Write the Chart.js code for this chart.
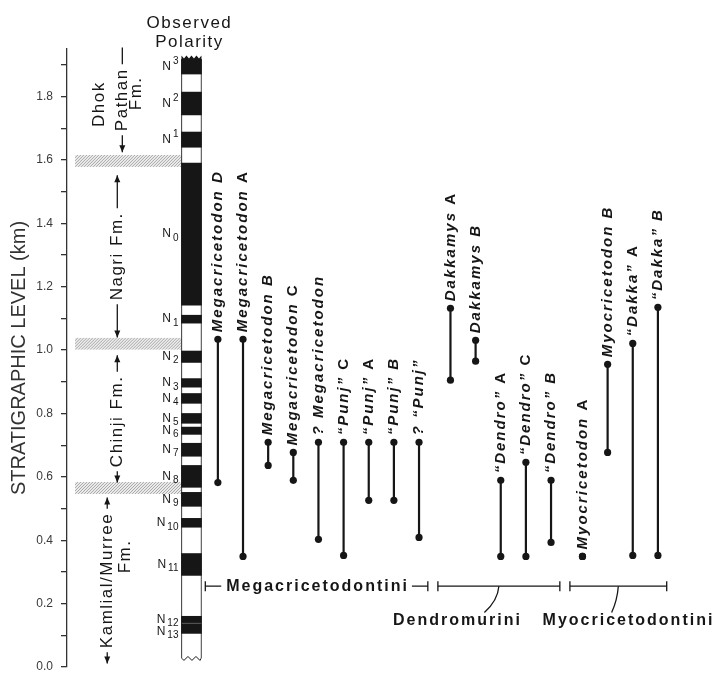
<!DOCTYPE html>
<html>
<head>
<meta charset="utf-8">
<script src="https://cdn.jsdelivr.net/npm/chart.js@4.4.0/dist/chart.umd.min.js"></script>
<style>
  html, body { margin: 0; padding: 0; background: #fff; }
  #wrap { width: 721px; height: 673px; }
</style>
</head>
<body>
<div id="wrap"><canvas id="myChart" width="721" height="673"></canvas></div>
<script>
const FONT = "'Liberation Sans', Arial, Helvetica, sans-serif";
const INK = '#161616';

// observed polarity: normal zones (km)
const zoneTag = ['3', '2', '1', '0', '1', '2', '3', '4', '5', '6', '7', '8', '9', '10', '11', '12', '13'];
const zoneSup = [true, true, true, false, false, false, false, false, false, false, false, false, false, false, false, false, false];
const zoneBottom = [1.871, 1.742, 1.640, 1.142, 1.085, 0.961, 0.883, 0.832, 0.769, 0.734, 0.665, 0.567, 0.507, 0.441, 0.289, 0.140, 0.106];
const zoneTop = [1.917, 1.814, 1.688, 1.590, 1.110, 0.997, 0.910, 0.863, 0.800, 0.757, 0.706, 0.636, 0.551, 0.469, 0.358, 0.160, 0.137];
const columnRange = [0.027, 1.917];

// formations and their boundaries (km)
const formBounds = [0.565, 1.02, 1.597];

// taxa ranges (km)
const taxonName = ['Megacricetodon', 'Megacricetodon', 'Megacricetodon', 'Megacricetodon', '? Megacricetodon',
    '\u201cPunj\u201d', '\u201cPunj\u201d', '\u201cPunj\u201d', '? \u201cPunj\u201d',
    'Dakkamys', 'Dakkamys', '\u201cDendro\u201d', '\u201cDendro\u201d', '\u201cDendro\u201d',
    'Myocricetodon', 'Myocricetodon', '\u201cDakka\u201d', '\u201cDakka\u201d'];
const taxonLetter = ['D', 'A', 'B', 'C', '', 'C', 'A', 'B', '', 'A', 'B', 'A', 'C', 'B', 'A', 'B', 'A', 'B'];
const rangeBottom = [0.582, 0.349, 0.636, 0.589, 0.403, 0.352, 0.526, 0.526, 0.409, 0.905, 0.965, 0.349, 0.349, 0.393, 0.349, 0.677, 0.352, 0.352];
const rangeTop = [1.034, 1.034, 0.709, 0.677, 0.709, 0.709, 0.709, 0.709, 0.709, 1.132, 1.031, 0.589, 0.646, 0.589, 0.349, 0.955, 1.021, 1.135];
const taxonTribe = [0, 0, 0, 0, 0, 0, 0, 0, 0, 1, 1, 1, 1, 1, 2, 2, 2, 2];
const tribes = ['Megacricetodontini', 'Dendromurini', 'Myocricetodontini'];

const polX = 4.95;
function taxonX(i) { return 6 + i + 0.25 * taxonTribe[i]; }

// where the formation words sit (x in column units, y in km)
const formLabels = [
    { text: 'Dhok', x: 1.3, y: 1.776 },
    { text: 'Pathan', x: 2.2, y: 1.79, up: 1.955, upHead: false, down: 1.624, downHead: true },
    { text: 'Fm.', x: 2.77, y: 1.81 },
    { text: 'Nagri Fm.', x: 2.0, y: 1.296, up: 1.552, upHead: true, down: 1.04, downHead: true },
    { text: 'Chinji Fm.', x: 2.0, y: 0.775, up: 0.984, upHead: true, down: 0.582, downHead: true },
    { text: 'Kamlial/Murree', x: 1.6, y: 0.273, up: 0.535, upHead: true, down: 0.011, downHead: true },
    { text: 'Fm.', x: 2.3, y: 0.349 }
];
const tribeLayout = [
    null,
    { lx: 15.53, ly: 0.131, cx: 16.6, cy: 0.172 },
    { lx: 22.33, ly: 0.131, cx: 21.66, cy: 0.172 }
];
const bracketLevel = 0.255;

function arrowLine(ctx, x, yFrom, yTo, head) {
    ctx.beginPath(); ctx.moveTo(x, yFrom); ctx.lineTo(x, yTo); ctx.stroke();
    if (head) {
        const d = yTo > yFrom ? 1 : -1;
        ctx.beginPath();
        ctx.moveTo(x, yTo);
        ctx.lineTo(x - 3, yTo - d * 7);
        ctx.lineTo(x + 3, yTo - d * 7);
        ctx.closePath(); ctx.fill();
    }
}

const overlay = {
    id: 'overlay',
    beforeDatasetsDraw(chart) {
        const ctx = chart.ctx, xs = v => chart.scales.x.getPixelForValue(v), ys = v => chart.scales.y.getPixelForValue(v);
        // hatched formation contacts
        formBounds.forEach(b => {
            const x0 = xs(0.32), x1 = xs(polX) - 10, y0 = ys(b + 0.019), y1 = ys(b - 0.019);
            ctx.save();
            ctx.beginPath(); ctx.rect(x0, y0, x1 - x0, y1 - y0); ctx.clip();
            ctx.fillStyle = '#ececec'; ctx.fillRect(x0, y0, x1 - x0, y1 - y0);
            ctx.strokeStyle = '#a8a8a8'; ctx.lineWidth = 1;
            const h = y1 - y0;
            for (let x = x0 - h; x < x1; x += 3) {
                ctx.beginPath(); ctx.moveTo(x, y1); ctx.lineTo(x + h, y0); ctx.stroke();
            }
            ctx.restore();
        });
    },
    afterDatasetsDraw(chart) {
        const ctx = chart.ctx, xs = v => chart.scales.x.getPixelForValue(v), ys = v => chart.scales.y.getPixelForValue(v);
        const area = chart.chartArea;
        ctx.save();
        ctx.fillStyle = INK; ctx.strokeStyle = INK;

        // column ends
        const cx = xs(polX), cl = cx - 10, cr = cx + 10, ct = ys(columnRange[1]), cb = ys(columnRange[0]);
        ctx.beginPath(); ctx.moveTo(cl, ct + 1); ctx.lineTo(cl, ct - 4);
        for (let k = 0; k < 4; k++) {
            ctx.lineTo(cl + k * 5 + 2.5, ct - 1);
            ctx.lineTo(cl + k * 5 + 5, ct - 4);
        }
        ctx.lineTo(cr, ct + 1); ctx.closePath(); ctx.fill();
        ctx.lineWidth = 1;
        ctx.beginPath(); ctx.moveTo(cl + 0.5, cb);
        for (let k = 0; k < 5; k++) ctx.lineTo(cl + 0.5 + k * 4 + 2, k % 2 ? cb - 2 : cb + 2);
        ctx.lineTo(cr - 0.5, cb); ctx.stroke();

        // title over the column
        ctx.textAlign = 'center'; ctx.textBaseline = 'alphabetic';
        ctx.font = '17px ' + FONT; ctx.letterSpacing = '1.5px';
        ctx.fillText('Observed', cx - 2, area.top - 21);
        ctx.fillText('Polarity', cx - 2, area.top - 2);

        // zone labels, nudged apart where zones are close
        ctx.letterSpacing = '0px';
        let prevY = -100;
        zoneTag.forEach((tag, i) => {
            let y = ys((zoneBottom[i] + zoneTop[i]) / 2);
            if (y - prevY < 12) y = prevY + 12;
            prevY = y;
            const right = cl - 3;
            ctx.textAlign = 'right'; ctx.textBaseline = 'middle';
            ctx.font = '10px ' + FONT;
            const tw = ctx.measureText(tag).width;
            ctx.fillText(tag, right, zoneSup[i] ? y - 5 : y + 4);
            ctx.font = '12px ' + FONT;
            ctx.fillText('N', right - tw - 2, y);
        });

        // formation names
        ctx.font = '17px ' + FONT; ctx.letterSpacing = '1.5px'; ctx.lineWidth = 1.3;
        formLabels.forEach(f => {
            const px = xs(f.x), py = ys(f.y);
            const w = ctx.measureText(f.text).width;
            ctx.save(); ctx.translate(px, py); ctx.rotate(-Math.PI / 2);
            ctx.textAlign = 'center'; ctx.textBaseline = 'middle';
            ctx.fillText(f.text, 0, 0);
            ctx.restore();
            if (f.up !== undefined) arrowLine(ctx, px, py - w / 2 - 4, ys(f.up), f.upHead);
            if (f.down !== undefined) arrowLine(ctx, px, py + w / 2 + 4, ys(f.down), f.downHead);
        });

        // taxon names
        ctx.letterSpacing = '2px';
        taxonName.forEach((nm, i) => {
            ctx.save();
            ctx.translate(xs(taxonX(i)), ys(rangeTop[i]) - 7);
            ctx.rotate(-Math.PI / 2);
            ctx.textAlign = 'left'; ctx.textBaseline = 'middle';
            ctx.font = 'italic bold 15px ' + FONT;
            ctx.fillText(nm, 0, 0);
            const L = taxonLetter[i];
            if (L) {
                const w = ctx.measureText(nm + ' ').width;
                ctx.font = (L === 'A' || L === 'C' ? 'bold 15px ' : 'italic bold 15px ') + FONT;
                ctx.fillText(L, w, 0);
            }
            ctx.restore();
        });

        // tribe brackets
        ctx.font = 'bold 16px ' + FONT; ctx.letterSpacing = '2px'; ctx.lineWidth = 1.3;
        const yb = ys(bracketLevel);
        tribes.forEach((name, t) => {
            const first = taxonTribe.indexOf(t), last = taxonTribe.lastIndexOf(t);
            const x0 = xs(taxonX(first) - 0.5), x1 = xs(taxonX(last) + 0.35);
            ctx.beginPath();
            ctx.moveTo(x0, yb - 5); ctx.lineTo(x0, yb + 5);
            ctx.moveTo(x1, yb - 5); ctx.lineTo(x1, yb + 5);
            ctx.stroke();
            const lay = tribeLayout[t];
            ctx.textAlign = 'center'; ctx.textBaseline = 'middle';
            if (!lay) {
                const xm = (x0 + x1) / 2, w = ctx.measureText(name).width;
                ctx.beginPath();
                ctx.moveTo(x0, yb); ctx.lineTo(xm - w / 2 - 4, yb);
                ctx.moveTo(xm + w / 2 + 4, yb); ctx.lineTo(x1, yb);
                ctx.stroke();
                ctx.fillText(name, xm + 1, yb);
            } else {
                const xm = (x0 + x1) / 2;
                ctx.beginPath(); ctx.moveTo(x0, yb); ctx.lineTo(x1, yb); ctx.stroke();
                ctx.beginPath(); ctx.moveTo(xm, yb);
                ctx.quadraticCurveTo(xm - 1, yb + 14, xs(lay.cx), ys(lay.cy));
                ctx.stroke();
                ctx.textBaseline = 'alphabetic';
                ctx.fillText(name, xs(lay.lx), ys(lay.ly));
            }
        });
        ctx.restore();
    }
};

const datasets = [
    {
        type: 'bar',
        data: [{ x: polX, y: columnRange }],
        backgroundColor: '#ffffff', borderColor: INK, borderWidth: 1,
        borderSkipped: 'start', barThickness: 20, grouped: false, order: 3
    },
    {
        type: 'bar',
        data: zoneTop.map((t, i) => ({ x: polX, y: [zoneBottom[i], t] })),
        backgroundColor: INK, borderWidth: 0, barThickness: 20, grouped: false, order: 2
    }
];
taxonName.forEach((nm, i) => {
    datasets.push({
        type: 'line',
        label: nm + ' ' + taxonLetter[i],
        data: [{ x: taxonX(i), y: rangeBottom[i] }, { x: taxonX(i), y: rangeTop[i] }],
        borderColor: INK, borderWidth: 2.2,
        pointRadius: 3.6, pointBackgroundColor: INK, pointBorderWidth: 0,
        order: 1, clip: false
    });
});

const ctx = document.getElementById('myChart').getContext('2d');
const myChart = new Chart(ctx, {
    type: 'bar',
    data: { datasets: datasets },
    options: {
        responsive: false,
        animation: false,
        devicePixelRatio: 1,
        layout: { padding: { top: 49, bottom: 6, left: 0, right: 0 } },
        plugins: { legend: { display: false }, tooltip: { enabled: false } },
        scales: {
            x: { type: 'linear', min: 0, max: 25.85, offset: false, display: false },
            y: {
                type: 'linear', min: 0, max: 1.95,
                border: { color: '#333', width: 1.3 },
                grid: { drawOnChartArea: false, tickLength: 6, color: '#333', lineWidth: 1.3 },
                ticks: {
                    stepSize: 0.1, autoSkip: false, padding: 8, color: '#3a3a3a',
                    font: { size: 12, family: FONT },
                    callback: v => (Math.round(v * 10) % 2 === 0 ? v.toFixed(1) : '')
                },
                title: {
                    display: true, text: 'STRATIGRAPHIC LEVEL (km)', color: '#333',
                    font: { size: 20, family: FONT }, padding: { top: 7, bottom: 0 }
                },
                afterBuildTicks: s => {
                    s.ticks = s.ticks.filter(t => Math.abs(t.value * 10 - Math.round(t.value * 10)) < 1e-6 && t.value < 1.92);
                },
                afterFit: s => { s.width = 67; s.paddingTop = 0; s.paddingBottom = 0; }
            }
        }
    },
    plugins: [overlay]
});
</script>
</body>
</html>
